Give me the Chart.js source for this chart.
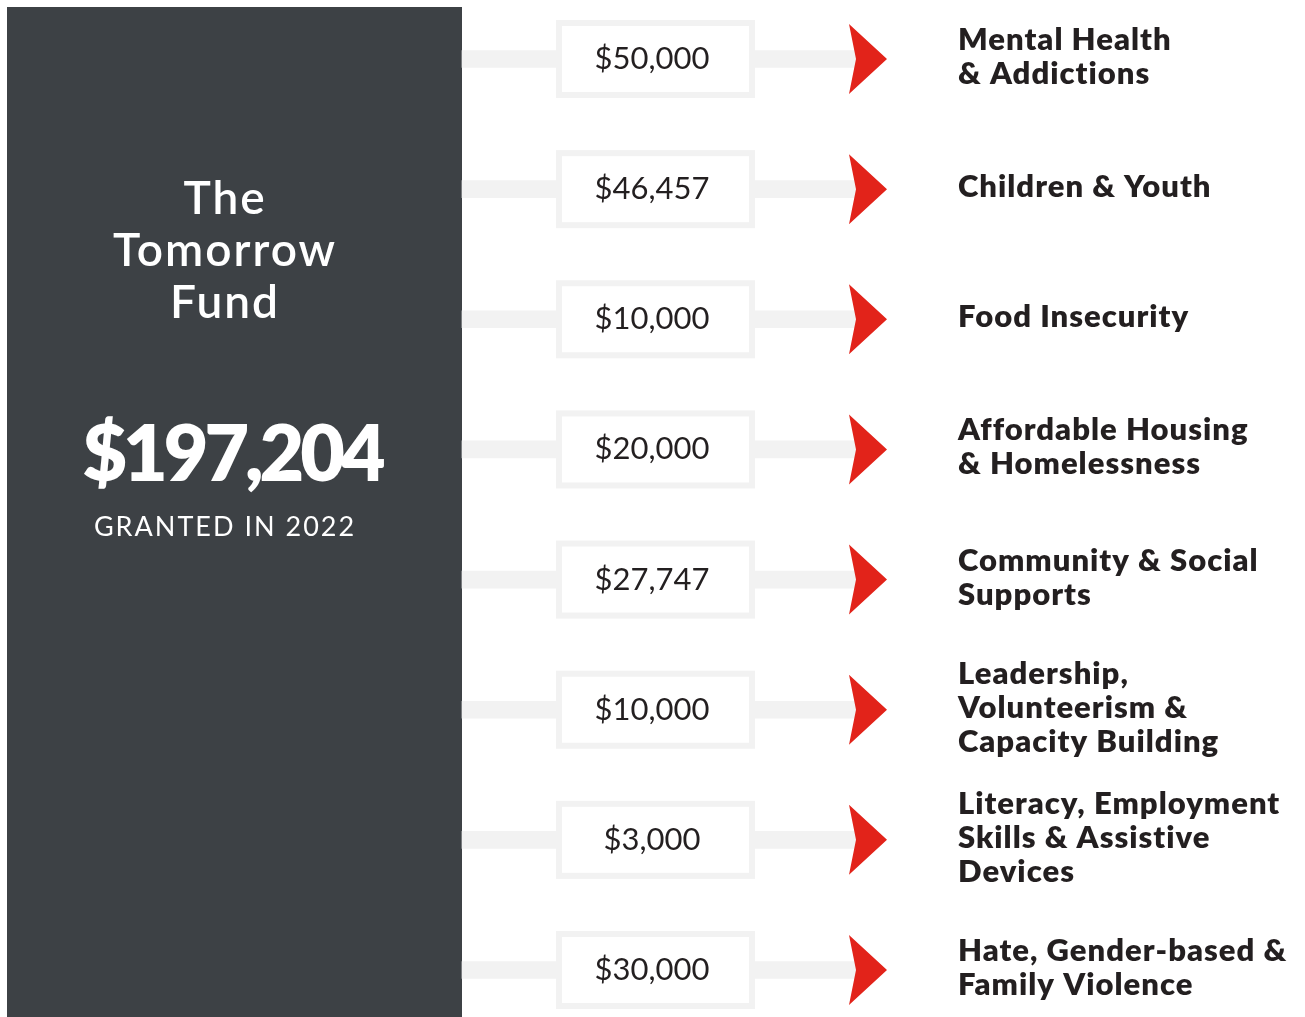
<!DOCTYPE html>
<html>
<head>
<meta charset="utf-8">
<script src="https://cdn.jsdelivr.net/npm/chart.js@4.4.0/dist/chart.umd.min.js"></script>
<style>
html, body { margin: 0; padding: 0; background: #fff; overflow: hidden; }
#wrap { position: relative; width: 1305px; height: 1017px; }
</style>
</head>
<body>
<div id="wrap"><canvas id="chart"></canvas></div>
<script>
// grant areas, one row each (label lines as printed)
const causes = [
    ['Mental Health', '& Addictions'],
    ['Children & Youth'],
    ['Food Insecurity'],
    ['Affordable Housing', '& Homelessness'],
    ['Community & Social', 'Supports'],
    ['Leadership,', 'Volunteerism &', 'Capacity Building'],
    ['Literacy, Employment', 'Skills & Assistive', 'Devices'],
    ['Hate, Gender-based &', 'Family Violence']
];
const amounts = [50000, 46457, 10000, 20000, 27747, 10000, 3000, 30000];
// connectors all run the same length
const connectorSpan = [1, 1, 1, 1, 1, 1, 1, 1];

const fundTitle = ['The', 'Tomorrow', 'Fund'];
const totalGranted = 197204;
const grantedNote = 'GRANTED IN 2022';

const money = v => '$' + v.toLocaleString('en-US');

const infoPlugin = {
    id: 'info',
    beforeDraw(chart) {
        const ctx = chart.ctx;
        ctx.save();
        // dark side panel
        ctx.fillStyle = '#3d4145';
        ctx.fillRect(7, 7, 455, 1010);
        ctx.fillStyle = '#ffffff';
        ctx.textAlign = 'center';
        ctx.textBaseline = 'alphabetic';
        ctx.font = '600 46px Lato';
        ctx.letterSpacing = '2px';
        fundTitle.forEach((t, i) => ctx.fillText(t, 225, 214 + i * 52));
        ctx.font = '800 77px Lato';
        ctx.letterSpacing = '-4px';
        ctx.fillText(money(totalGranted), 232, 481);
        ctx.letterSpacing = '2px';
        ctx.font = '27px Lato';
        ctx.fillText(grantedNote, 225, 536);
        ctx.restore();
    },
    afterDatasetsDraw(chart) {
        const ctx = chart.ctx;
        const yScale = chart.scales.y;
        ctx.save();
        amounts.forEach((v, i) => {
            const cy = yScale.getPixelForValue(i);
            // value box
            ctx.fillStyle = '#f2f2f2';
            ctx.fillRect(556, cy - 39, 199, 78);
            ctx.fillStyle = '#ffffff';
            ctx.fillRect(562, cy - 33, 187, 66);
            ctx.fillStyle = '#231f20';
            ctx.font = '31px Lato';
            ctx.letterSpacing = '0px';
            ctx.textAlign = 'center';
            ctx.textBaseline = 'middle';
            ctx.fillText(money(v), 652, cy);
            // red arrow
            ctx.fillStyle = '#e2231a';
            ctx.beginPath();
            ctx.moveTo(849, cy - 35);
            ctx.lineTo(887, cy);
            ctx.lineTo(849, cy + 35);
            ctx.lineTo(856, cy);
            ctx.closePath();
            ctx.fill();
            // cause label
            const lines = causes[i];
            ctx.fillStyle = '#231f20';
            ctx.font = '800 31px Lato';
            ctx.letterSpacing = '1px';
            ctx.textAlign = 'left';
            lines.forEach((l, k) => {
                ctx.fillText(l, 958, cy - 2 + (k - (lines.length - 1) / 2) * 34);
            });
        });
        ctx.restore();
    }
};

new Chart(document.getElementById('chart'), {
    type: 'bar',
    data: {
        labels: causes.map(c => c.join(' ')),
        datasets: [{
            data: connectorSpan,
            backgroundColor: '#f2f2f2',
            barThickness: 17,
            borderWidth: 0,
            clip: false
        }]
    },
    options: {
        indexAxis: 'y',
        responsive: true,
        maintainAspectRatio: false,
        animation: false,
        layout: { padding: { left: 462, right: 445, top: 59, bottom: 47 } },
        plugins: { legend: { display: false }, tooltip: { enabled: false } },
        scales: {
            x: { display: false, min: 0, max: 1 },
            y: { display: false, offset: false }
        }
    },
    plugins: [infoPlugin]
});
</script>
</body>
</html>
